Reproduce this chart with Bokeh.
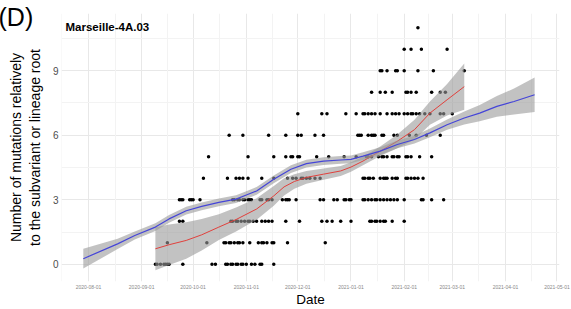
import numpy as np
import pandas as pd
from bokeh.plotting import figure
from bokeh.models import (Range1d, FixedTicker, MonthsTicker, DatetimeTickFormatter,
                          Grid, Label, Title)
from bokeh.embed import file_html
from bokeh.resources import INLINE

BASE_DATE = "2020-08-01"

# sampling dates (days since 2020-08-01) of sequences, grouped by mutation count
days_0 = [39, 40, 42, 44, 45, 46, 47, 55, 72, 74, 80, 81, 83, 84, 86, 87, 89, 90, 92, 95, 97, 100, 101, 108]
days_1 = [46, 69, 79, 80, 82, 83, 85, 87, 88, 90, 94, 99, 101, 102, 104, 107, 108, 116, 138]
days_2 = [53, 55, 83, 84, 86, 87, 89, 91, 93, 94, 96, 98, 101, 103, 105, 107, 115, 123, 136, 139, 142,
          147, 153, 164, 165, 167, 168, 170, 172, 173, 177, 184]
days_3 = [53, 54, 55, 59, 60, 61, 65, 84, 85, 87, 88, 90, 91, 93, 94, 95, 100, 101, 104, 105, 107, 113,
          115, 116, 117, 121, 135, 137, 143, 145, 149, 150, 152, 153, 160, 161, 163, 165, 167, 168, 170,
          172, 174, 176, 178, 180, 184, 194, 195, 200, 207]
days_4 = [67, 81, 86, 88, 90, 93, 101, 108, 116, 119, 121, 124, 125, 127, 129, 132, 135, 160, 161, 163,
          164, 166, 170, 172, 173, 174, 177, 179, 180, 185, 186, 188, 190, 192, 195]
days_5 = [70, 93, 108, 115, 118, 119, 122, 123, 133, 140, 149, 156, 162, 163, 165, 169, 171, 172, 174,
          177, 178, 180, 181, 185, 186, 188, 193, 200]
days_6 = [82, 90, 105, 115, 122, 124, 132, 137, 157, 158, 159, 163, 165, 166, 167, 171, 172, 178, 180,
          187, 191, 197, 205]
days_7 = [122, 136, 139, 150, 156, 160, 161, 163, 165, 167, 170, 174, 177, 179, 181, 184, 186, 188, 189,
          191, 193, 196, 199, 205, 207, 212]
days_8 = [165, 170, 173, 177, 185, 186, 188, 191, 200, 205, 208]
days_9 = [170, 171, 174, 179, 180, 184, 192, 201, 219]
days_10 = [184, 188, 194, 209]
days_11 = [192]
mutation_levels = [0, 1, 2, 3, 4, 5, 6, 7, 8, 9, 10, 11]
days_by_level = [days_0, days_1, days_2, days_3, days_4, days_5, days_6, days_7,
                 days_8, days_9, days_10, days_11]

# red smooth (fit and half-width of confidence band)
red_days = [39, 47, 57, 66, 76, 86, 98, 108, 114, 120, 127, 137, 147, 153, 160, 170, 180, 190, 199, 209, 219]
red_fit = [0.72, 0.91, 1.11, 1.37, 1.73, 2.08, 2.57, 3.18, 3.60, 3.85, 4.04, 4.19, 4.34, 4.52, 4.80,
           5.26, 5.72, 6.26, 7.03, 7.65, 8.26]
red_ci = [1.00, 0.94, 0.85, 0.73, 0.60, 0.56, 0.50, 0.46, 0.40, 0.34, 0.30, 0.26, 0.23, 0.22, 0.20,
          0.22, 0.32, 0.46, 0.54, 0.73, 1.08]

# blue smooth
blue_days = [-3, 17, 27, 39, 47, 57, 66, 76, 86, 92, 98, 108, 118, 127, 137, 147, 153, 160, 170, 180,
             190, 199, 209, 219, 228, 238, 248, 260]
blue_fit = [0.26, 0.95, 1.34, 1.73, 2.11, 2.49, 2.69, 2.88, 3.03, 3.22, 3.41, 3.95, 4.42, 4.68, 4.80,
            4.85, 4.88, 5.03, 5.26, 5.57, 5.80, 6.11, 6.49, 6.80, 7.03, 7.34, 7.57, 7.88]
blue_ci = [0.46, 0.24, 0.19, 0.18, 0.18, 0.18, 0.18, 0.18, 0.18, 0.18, 0.18, 0.18, 0.18, 0.18, 0.18,
           0.18, 0.18, 0.18, 0.18, 0.18, 0.18, 0.20, 0.24, 0.30, 0.38, 0.48, 0.60, 0.80]

base = np.datetime64(BASE_DATE, "ms")


def to_dates(d):
    return base + (np.array(d, dtype=float) * 86400000).astype("timedelta64[ms]")


px, py = [], []
for lvl, ds in zip(mutation_levels, days_by_level):
    px.extend(ds)
    py.extend([lvl] * len(ds))

p = figure(width=571, height=309, output_backend="svg", toolbar_location=None,
           x_axis_type="datetime",
           x_range=Range1d(start=to_dates([-15.7])[0], end=to_dates([274.5])[0]),
           y_range=Range1d(start=-0.8, end=11.66),
           min_border_left=61, min_border_right=12, min_border_top=13, min_border_bottom=26)
p.outline_line_color = None
p.background_fill_color = "white"

# grids
p.xaxis.ticker = MonthsTicker(months=list(range(12)))
p.xaxis.formatter = DatetimeTickFormatter(months="%Y-%m-%d", days="%Y-%m-%d")
p.xgrid.grid_line_color = "#e8e8e8"
month_starts = pd.date_range("2020-07-01", "2021-06-01", freq="MS")
mids = month_starts[:-1] + (month_starts[1:] - month_starts[:-1]) / 2
mid_ms = [(m - pd.Timestamp("1970-01-01")).total_seconds() * 1000 for m in mids]
p.add_layout(Grid(dimension=0, ticker=FixedTicker(ticks=mid_ms), grid_line_color="#f3f3f3",
                  level="underlay"))
p.yaxis.ticker = FixedTicker(ticks=[0, 3, 6, 9], minor_ticks=[1.5, 4.5, 7.5, 10.5])
p.ygrid.grid_line_color = "#e8e8e8"
p.ygrid.minor_grid_line_color = "#f3f3f3"

for ax in (p.xaxis, p.yaxis):
    ax.axis_line_color = None
    ax.major_tick_line_color = None
    ax.minor_tick_line_color = None
    ax.major_tick_out = 0
    ax.major_tick_in = 0
    ax.minor_tick_out = 0
    ax.minor_tick_in = 0
    ax.major_label_text_font = "Liberation Sans"
    ax.axis_label_text_font = "Liberation Sans"
    ax.axis_label_text_font_style = "normal"
    ax.axis_label_text_color = "black"

p.xaxis.major_label_text_font_size = "5px"
p.xaxis.major_label_text_color = "#888888"
p.xaxis.major_label_standoff = 3
p.xaxis.axis_label = "Date"
p.xaxis.axis_label_text_font_size = "13.5px"
p.xaxis.axis_label_standoff = 0

p.yaxis.major_label_text_font_size = "10px"
p.yaxis.major_label_text_color = "#4d4d4d"
p.yaxis.major_label_standoff = 3
p.yaxis.axis_label = "Number of mutations relatively\nto the subvariant or lineage root"
p.yaxis.axis_label_text_font_size = "14px"
p.yaxis.axis_label_standoff = 7

# points
p.scatter(to_dates(px), py, size=3.5, color="black", line_color=None)

# smooths
rd = to_dates(red_days)
p.varea(x=rd, y1=np.array(red_fit) - np.array(red_ci), y2=np.array(red_fit) + np.array(red_ci),
        fill_color="#999999", fill_alpha=0.6)
p.line(rd, red_fit, line_color="#e0403c", line_width=1)
bd = to_dates(blue_days)
p.varea(x=bd, y1=np.array(blue_fit) - np.array(blue_ci), y2=np.array(blue_fit) + np.array(blue_ci),
        fill_color="#999999", fill_alpha=0.6)
p.line(bd, blue_fit, line_color="#4545d8", line_width=1.2)

# title inside the panel
p.add_layout(Label(x=4, y=11.02, x_units="screen", y_units="data", text="Marseille-4A.03",
                   text_font="Liberation Sans", text_font_style="bold", text_font_size="11.5px",
                   text_color="black", text_baseline="alphabetic"))
# panel tag, in the top border so that it may sit left of the frame
p.add_layout(Title(text="(D)", align="left", vertical_align="bottom", offset=-63, standoff=-35,
                   text_font="Liberation Sans", text_font_size="25px", text_font_style="normal",
                   text_color="black"), "above")

open("out.html", "w").write(file_html(p, INLINE))
